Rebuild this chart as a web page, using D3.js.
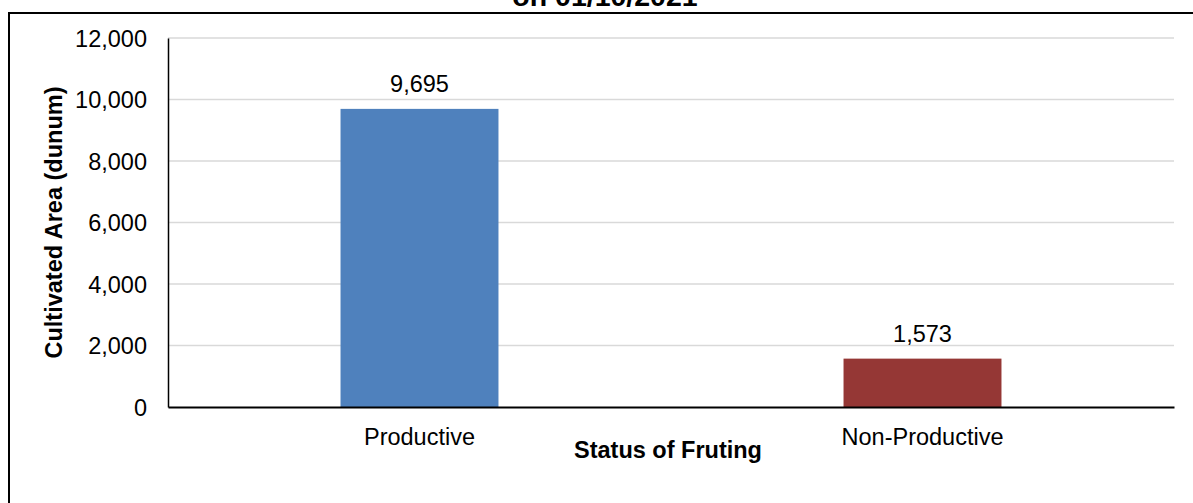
<!DOCTYPE html>
<html>
<head>
<meta charset="utf-8">
<script src="https://cdn.jsdelivr.net/npm/d3@7"></script>
<style>
  body { margin: 0; background: #fff; }
  svg { display: block; font-family: "Liberation Sans", Arial, sans-serif; }
</style>
</head>
<body>
<div id="chart"></div>
<script>
// Data
const categories = ["Productive", "Non-Productive"];
const areas = [9695, 1573];
const barColors = ["#4f81bd", "#953735"];
const yTicks = [0, 2000, 4000, 6000, 8000, 10000, 12000];

const width = 1193, height = 503;
const margins = {top: 38, right: 19, bottom: 96, left: 168};

const data = categories.map((c, i) => ({category: c, value: areas[i], color: barColors[i]}));

const svg = d3.select("#chart")
  .append("svg")
  .attr("width", width)
  .attr("height", height)
  .attr("viewBox", [0, 0, width, height]);

/* Outer chart border (only top and left edges are in view) */
svg.append("rect")
  .attr("x", 9)
  .attr("y", 13)
  .attr("width", width + 20)
  .attr("height", height + 20)
  .attr("fill", "none")
  .attr("stroke", "#000")
  .attr("stroke-width", 2);

/* Scales */
const xScale = d3.scaleBand()
  .domain(categories)
  .range([margins.left, width - margins.right])
  .paddingInner(0.686)
  .paddingOuter(0.343);

const yScale = d3.scaleLinear()
  .domain([0, 12000])
  .range([height - margins.bottom, margins.top]);

const fmt = d3.format(",");

/* Gridlines */
svg.append("g")
  .selectAll("line")
  .data(yTicks.filter(d => d > 0))
  .join("line")
    .attr("x1", margins.left)
    .attr("x2", width - margins.right)
    .attr("y1", d => yScale(d))
    .attr("y2", d => yScale(d))
    .attr("stroke", "#d9d9d9")
    .attr("stroke-width", 1.5);

/* Bars */
svg.append("g")
  .selectAll("rect")
  .data(data)
  .join("rect")
    .attr("x", d => xScale(d.category))
    .attr("y", d => yScale(d.value))
    .attr("width", xScale.bandwidth())
    .attr("height", d => yScale(0) - yScale(d.value))
    .attr("fill", d => d.color);

/* Value labels */
svg.append("g")
  .selectAll("text")
  .data(data)
  .join("text")
    .attr("x", d => xScale(d.category) + xScale.bandwidth() / 2)
    .attr("y", d => yScale(d.value) - 17)
    .attr("text-anchor", "middle")
    .style("font-size", "23.5px")
    .style("fill", "#000")
    .text(d => fmt(d.value));

/* Y axis */
const yGroup = svg.append("g")
  .attr("transform", `translate(${margins.left},0)`)
  .call(d3.axisLeft(yScale).tickValues(yTicks).tickFormat(fmt).tickSize(0).tickPadding(21));
yGroup.select(".domain")
  .attr("stroke", "#000")
  .attr("stroke-width", 1.5);
yGroup.selectAll("text")
  .style("font-size", "23.5px")
  .style("font-family", "'Liberation Sans', Arial, sans-serif")
  .attr("fill", "#000")
  .attr("dy", "0.36em");

/* X axis */
const xGroup = svg.append("g")
  .attr("transform", `translate(0,${height - margins.bottom})`)
  .call(d3.axisBottom(xScale).tickSize(0).tickPadding(21));
xGroup.select(".domain")
  .attr("stroke", "#000")
  .attr("stroke-width", 2);
xGroup.selectAll("text")
  .style("font-size", "23.5px")
  .style("font-family", "'Liberation Sans', Arial, sans-serif")
  .attr("fill", "#000");

/* Axis titles */
svg.append("text")
  .attr("x", 668)
  .attr("y", 458)
  .attr("text-anchor", "middle")
  .style("font-size", "23.5px")
  .style("font-weight", "bold")
  .text("Status of Fruting");

svg.append("text")
  .attr("transform", `translate(62,${(margins.top + height - margins.bottom) / 2}) rotate(-90)`)
  .attr("text-anchor", "middle")
  .style("font-size", "23.5px")
  .style("font-weight", "bold")
  .text("Cultivated Area (dunum)");

/* Chart title (only its last line shows at the top edge) */
svg.append("text")
  .attr("x", 605)
  .attr("y", 6)
  .attr("text-anchor", "middle")
  .style("font-size", "28.5px")
  .style("font-weight", "bold")
  .text("on 01/10/2021");
</script>
</body>
</html>
